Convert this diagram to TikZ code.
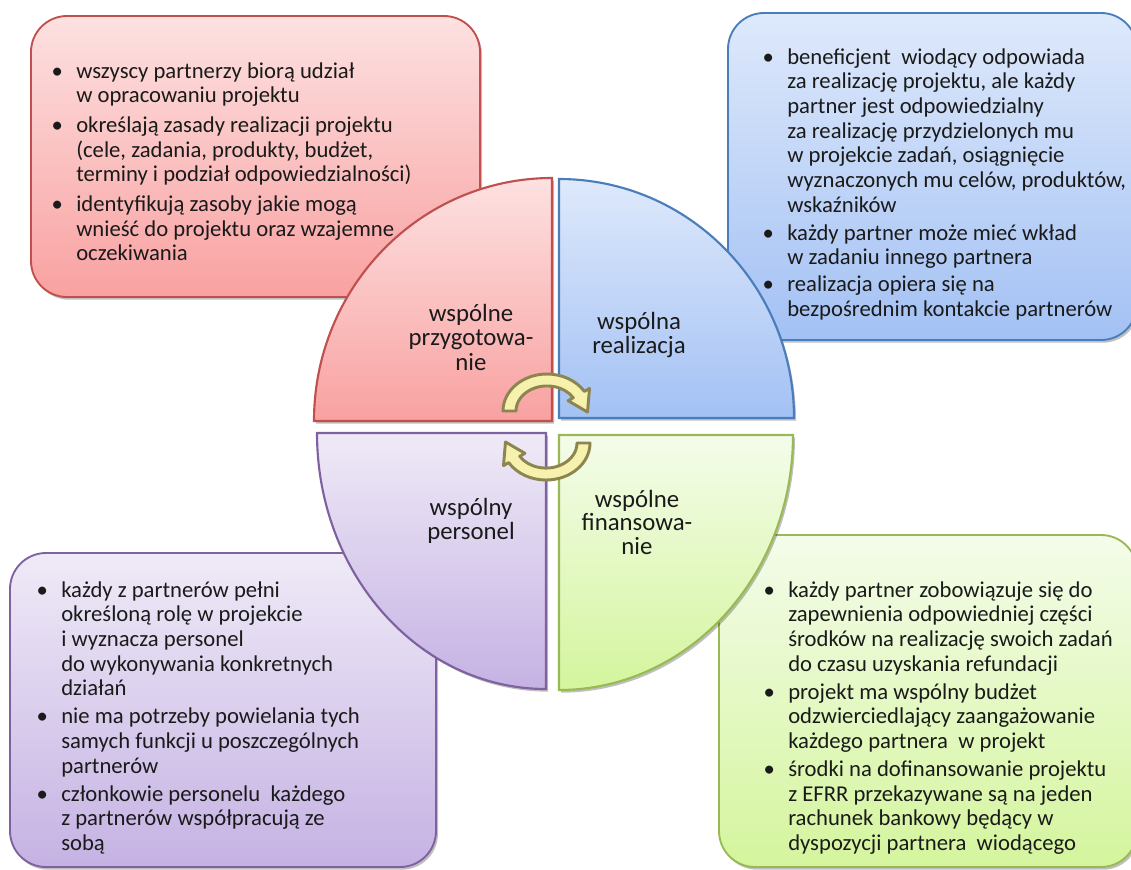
\documentclass[tikz,border=0pt]{standalone}
\usepackage{fontspec}
\setmainfont{Carlito}
\usetikzlibrary{shadows}
\definecolor{redTop}{HTML}{FDE1E1}
\definecolor{redBot}{HTML}{F9A1A1}
\definecolor{redLine}{HTML}{C0504D}
\definecolor{blueTop}{HTML}{DEE9FB}
\definecolor{blueBot}{HTML}{A3C1F4}
\definecolor{blueLine}{HTML}{4A7EBB}
\definecolor{purTop}{HTML}{EFEAF7}
\definecolor{purBot}{HTML}{C5B2E3}
\definecolor{purLine}{HTML}{7E62A0}
\definecolor{grnTop}{HTML}{F4FCEA}
\definecolor{grnBot}{HTML}{D4F59D}
\definecolor{grnLine}{HTML}{98B954}
\definecolor{arrFill}{HTML}{F6F2AE}
\definecolor{arrLine}{HTML}{8C8550}
\definecolor{txt}{HTML}{1A1A1A}
\newcommand\itm{\llap{\textbullet\hspace{10pt}}}
\newenvironment{lftxt}{\begin{tabular}[t]{@{}l@{}}}{\end{tabular}}
\newenvironment{ctrtxt}{\begin{tabular}[t]{@{}c@{}}}{\end{tabular}}
\tikzset{
  shad/.style={drop shadow={shadow xshift=1.5pt, shadow yshift=-2pt, opacity=0.25, fill=black}},
  infobox/.style={rounded corners=27pt, line width=1.4pt, shad},
  quad/.style={line width=1.6pt, shad},
  boxtxt/.style={font=\fontsize{17}{18.5}\selectfont, text=txt, inner sep=0pt, anchor=base west},
  lbl/.style={font=\fontsize{18.6}{18.6}\selectfont, text=txt, inner sep=0pt, anchor=base},
  cyc/.pic={
    \draw[fill=arrFill, draw=arrLine, line width=2.2pt, line join=round]
      (-31,0) -- (-44,0) arc[start angle=180, end angle=328, x radius=44, y radius=37]
      -- (42.5,-22.6) -- (40.5,1) -- (21.1,-10.3) -- (26.3,-13.3)
      arc[start angle=328, end angle=180, x radius=31, y radius=25] -- cycle;
  }
}
\begin{document}
\begin{tikzpicture}[x=0.75pt,y=-0.75pt]
\useasboundingbox (0,0) rectangle (1131,869);
\clip (0,0) rectangle (1131,869);
% info boxes
\draw[infobox, draw=redLine, top color=redTop, bottom color=redBot] (31,16) rectangle (480,297);
\draw[infobox, draw=blueLine, top color=blueTop, bottom color=blueBot] (728,13) rectangle (1137,340);
\draw[infobox, draw=purLine, top color=purTop, bottom color=purBot] (10,553) rectangle (436,867);
\draw[infobox, draw=grnLine, top color=grnTop, bottom color=grnBot] (719,535) rectangle (1137,867);
% quadrants
\draw[quad, draw=redLine, top color=redTop, bottom color=redBot]
  (552,421) -- (314,421) arc[start angle=180, end angle=270, x radius=238, y radius=243] -- cycle;
\draw[quad, draw=blueLine, top color=blueTop, bottom color=blueBot]
  (559,418) -- (559,179) arc[start angle=270, end angle=360, x radius=235, y radius=239] -- cycle;
\draw[quad, draw=purLine, top color=purTop, bottom color=purBot]
  (546,433) -- (317,433) arc[start angle=180, end angle=90, x radius=229, y radius=256] -- cycle;
\draw[quad, draw=grnLine, top color=grnTop, bottom color=grnBot]
  (559,435) -- (793,435) arc[start angle=0, end angle=90, x radius=234, y radius=255] -- cycle;
% cycle arrows
\pic at (547,411) {cyc};
\pic[rotate=180] at (546,443) {cyc};
% quadrant labels
\node[lbl] (lred) at (471,321) {\begin{ctrtxt}wspólne\\przygotowa-\\nie\end{ctrtxt}};
\node[lbl] (lblue) at (639,329) {\begin{ctrtxt}wspólna\\realizacja\end{ctrtxt}};
\node[lbl] (lpur) at (471,515) {\begin{ctrtxt}wspólny\\personel\end{ctrtxt}};
\node[lbl, font=\fontsize{18.6}{16.5}\selectfont] (lgrn) at (637,507) {\begin{ctrtxt}wspólne\\finansowa-\\nie\end{ctrtxt}};
% box texts
\node[boxtxt] (tred) at (76,78) {\begin{lftxt}\itm wszyscy partnerzy biorą udział\\
w opracowaniu projektu\\[3.75pt]
\itm określają zasady realizacji projektu\\
(cele, zadania, produkty, budżet,\\
terminy i podział odpowiedzialności)\\[3.75pt]
\itm identyfikują zasoby jakie mogą\\
wnieść do projektu oraz wzajemne\\
oczekiwania\end{lftxt}};
\node[boxtxt] (tblue) at (787,64) {\begin{lftxt}\itm beneficjent\ \ wiodący odpowiada\\
za realizację projektu, ale każdy\\
partner jest odpowiedzialny\\
za realizację przydzielonych mu\\
w projekcie zadań, osiągnięcie\\
wyznaczonych mu celów, produktów,\\
wskaźników\\[2.6pt]
\itm każdy partner może mieć wkład\\
w zadaniu innego partnera\\[1.5pt]
\itm realizacja opiera się na\\
bezpośrednim kontakcie partnerów\end{lftxt}};
\node[boxtxt] (tpur) at (61,597) {\begin{lftxt}\itm każdy z partnerów pełni\\
określoną rolę w projekcie\\
i wyznacza personel\\
do wykonywania konkretnych\\
działań\\[2.6pt]
\itm nie ma potrzeby powielania tych\\
samych funkcji u poszczególnych\\
partnerów\\[2.6pt]
\itm członkowie personelu\ \ każdego\\
z partnerów współpracują ze\\
sobą\end{lftxt}};
\node[boxtxt] (tgrn) at (788,597) {\begin{lftxt}\itm każdy partner zobowiązuje się do\\
zapewnienia odpowiedniej części\\
środków na realizację swoich zadań\\
do czasu uzyskania refundacji\\[2.6pt]
\itm projekt ma wspólny budżet\\
odzwierciedlający zaangażowanie\\
każdego partnera\ \ w projekt\\[2.6pt]
\itm środki na dofinansowanie projektu\\
z EFRR przekazywane są na jeden\\
rachunek bankowy będący w\\
dyspozycji partnera\ \ wiodącego\end{lftxt}};
\end{tikzpicture}
\end{document}
